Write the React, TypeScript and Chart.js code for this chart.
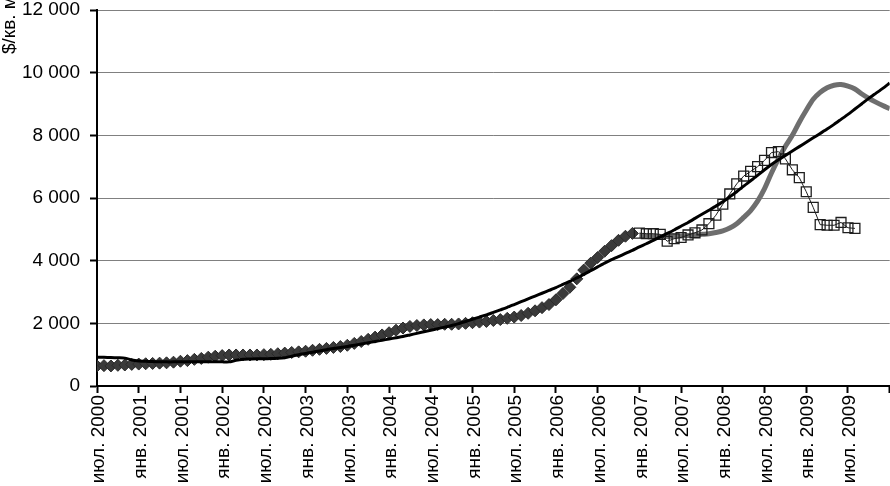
import { useEffect, useRef } from 'react';
import { Chart, registerables } from 'chart.js';

Chart.register(...registerables);

// Monthly x positions: 0 = июл. 2000, 114 = янв. 2010
const TICK_LABELS = [
  'июл. 2000', 'янв. 2001', 'июл. 2001', 'янв. 2002', 'июл. 2002',
  'янв. 2003', 'июл. 2003', 'янв. 2004', 'июл. 2004', 'янв. 2005',
  'июл. 2005', 'янв. 2006', 'июл. 2006', 'янв. 2007', 'июл. 2007',
  'янв. 2008', 'июл. 2008', 'янв. 2009', 'июл. 2009', '',
];
const MONTHS_PER_TICK = 6;
const X_MAX = 114;

const Y_MAX = 12000;
const Y_STEP = 2000;
const Y_TITLE = '$/кв. м';

// Actual prices (diamonds), from июл. 2000
const DIAMOND_START = 0;
const DIAMONDS = [
  640, 650, 640, 660, 670, 690,
  700, 710, 720, 730, 740, 760,
  790, 810, 850, 880, 920, 950,
  970, 990, 990, 990, 990, 990,
  1000, 1010, 1030, 1050, 1070, 1090,
  1110, 1140, 1170, 1200, 1230, 1260,
  1300, 1360, 1420, 1490, 1560, 1630,
  1700, 1780, 1850, 1900, 1930, 1950,
  1960, 1960, 1970, 1970, 1980, 2000,
  2020, 2040, 2060, 2090, 2120, 2160,
  2200, 2250, 2320, 2400, 2500, 2600,
  2750, 2950, 3150, 3420, 3700, 3920,
  4100, 4300, 4480, 4650, 4780, 4870,
];

// Actual prices (squares), from янв. 2007
const SQUARE_START = 78;
const SQUARES = [
  4880, 4860, 4860, 4840, 4620, 4700,
  4740, 4820, 4890, 4980, 5180, 5450,
  5800, 6130, 6450, 6700, 6850, 7000,
  7200, 7450, 7480, 7250, 6900, 6650,
  6200, 5700, 5150, 5130, 5130, 5220,
  5050, 5030,
];

// Gray thick curve, from янв. 2007
const GRAY_START = 78;
const GRAY = [
  4800, 4790, 4780, 4770, 4770, 4780,
  4790, 4800, 4820, 4840, 4860, 4900,
  4950, 5040, 5180, 5380, 5600, 5900,
  6300, 6800, 7250, 7650, 8000, 8420,
  8800, 9150, 9370, 9520, 9600, 9620,
  9570, 9480, 9320, 9180, 9060, 8950,
  8850,
];

// Black trend line, from июл. 2000
const BLACK_START = 0;
const BLACK = [
  920, 915, 910, 900, 890, 830,
  800, 790, 780, 775, 770, 770,
  770, 770, 770, 770, 770, 770,
  770, 770, 820, 850, 860, 870,
  870, 875, 885, 905, 950, 1000,
  1040, 1080, 1120, 1160, 1200, 1230,
  1260, 1300, 1340, 1380, 1420, 1460,
  1500, 1540, 1580, 1630, 1680, 1730,
  1780, 1830, 1880, 1930, 1990, 2060,
  2130, 2200, 2270, 2350, 2430, 2510,
  2600, 2690, 2780, 2870, 2960, 3050,
  3140, 3240, 3340, 3450, 3560, 3680,
  3800, 3920, 4030, 4130, 4230, 4330,
  4440, 4540, 4650, 4760, 4870, 4980,
  5100, 5220, 5350, 5480, 5610, 5740,
  5880, 6040, 6200, 6380, 6550, 6720,
  6900, 7070, 7220, 7360, 7500, 7640,
  7780, 7920, 8060, 8200, 8350, 8510,
  8670, 8840, 9010, 9180, 9340, 9500,
  9670,
];

const toPoints = (values: number[], start: number) =>
  values.map((y, i) => ({ x: start + i, y }));

const fmt = (v: number) => String(v).replace(/\B(?=(\d{3})+(?!\d))/g, ' ');

const FONT_FAMILY = '"Liberation Sans", Arial, sans-serif';

// Draws the y-axis caption near the top of the axis, running upward past the canvas edge
const yTitlePlugin = {
  id: 'yTitle',
  afterDraw(chart: any) {
    const { ctx, chartArea } = chart;
    ctx.save();
    ctx.translate(10, chartArea.top + 44);
    ctx.rotate(-Math.PI / 2);
    ctx.font = `19px ${FONT_FAMILY}`;
    ctx.fillStyle = '#000000';
    ctx.textAlign = 'left';
    ctx.textBaseline = 'middle';
    ctx.fillText(Y_TITLE, 0, 0);
    ctx.restore();
  },
};

export default function App() {
  const ref = useRef<HTMLCanvasElement>(null);

  useEffect(() => {
    const font = { family: FONT_FAMILY, size: 19 };
    const chart = new Chart(ref.current as HTMLCanvasElement, {
      type: 'line',
      data: {
        datasets: [
          {
            label: 'trend',
            data: toPoints(BLACK, BLACK_START),
            borderColor: '#000000',
            borderWidth: 3,
            pointRadius: 0,
            tension: 0.2,
            order: 0,
          },
          {
            label: 'squares',
            data: toPoints(SQUARES, SQUARE_START),
            borderColor: '#1e1e1e',
            borderWidth: 1,
            pointStyle: 'rect',
            pointRadius: 7,
            pointBorderWidth: 1.3,
            pointBorderColor: '#1e1e1e',
            pointBackgroundColor: 'rgba(0,0,0,0)',
            order: 1,
          },
          {
            label: 'diamonds',
            data: toPoints(DIAMONDS, DIAMOND_START),
            showLine: false,
            pointStyle: 'rectRot',
            pointRadius: 6,
            pointBorderWidth: 1,
            pointBorderColor: '#2a2a2a',
            pointBackgroundColor: '#3a3a3a',
            order: 2,
          },
          {
            label: 'gray',
            data: toPoints(GRAY, GRAY_START),
            borderColor: '#6e6e6e',
            borderWidth: 5,
            pointRadius: 0,
            tension: 0.3,
            order: 3,
          },
        ],
      },
      options: {
        animation: false,
        responsive: false,
        layout: { padding: { top: 10, right: 1, left: 0, bottom: 0 } },
        plugins: {
          legend: { display: false },
          tooltip: { enabled: false },
        },
        scales: {
          x: {
            type: 'linear',
            min: 0,
            max: X_MAX,
            afterFit(s: any) {
              s.height = 100;
              s.paddingLeft = 0;
              s.paddingRight = 0;
            },
            border: { color: '#000000', width: 2 },
            grid: {
              drawOnChartArea: false,
              drawTicks: true,
              tickLength: 7,
              tickColor: '#000000',
              tickWidth: 2,
            },
            ticks: {
              stepSize: MONTHS_PER_TICK,
              autoSkip: false,
              maxRotation: 90,
              minRotation: 90,
              padding: 2,
              labelOffset: 2,
              color: '#000000',
              font,
              callback: (v: any) => TICK_LABELS[Math.round(Number(v) / MONTHS_PER_TICK)] ?? '',
            },
          },
          y: {
            min: 0,
            max: Y_MAX,
            afterFit(s: any) {
              s.width = 97;
              s.paddingTop = 0;
              s.paddingBottom = 0;
            },
            border: { color: '#000000', width: 2 },
            grid: {
              color: '#808080',
              lineWidth: 1,
              tickLength: 7,
              tickColor: '#000000',
              tickWidth: 2,
            },
            ticks: {
              stepSize: Y_STEP,
              padding: 10,
              color: '#000000',
              font,
              callback: (v: any) => fmt(Number(v)),
            },
          },
        },
      },
      plugins: [yTitlePlugin],
    } as any);
    return () => chart.destroy();
  }, []);

  return (
    <div
      style={{
        position: 'fixed',
        left: 0,
        top: 0,
        width: 890,
        height: 486,
        overflow: 'hidden',
        background: '#ffffff',
      }}
    >
      <canvas ref={ref} width={898} height={486} style={{ display: 'block' }} />
    </div>
  );
}
